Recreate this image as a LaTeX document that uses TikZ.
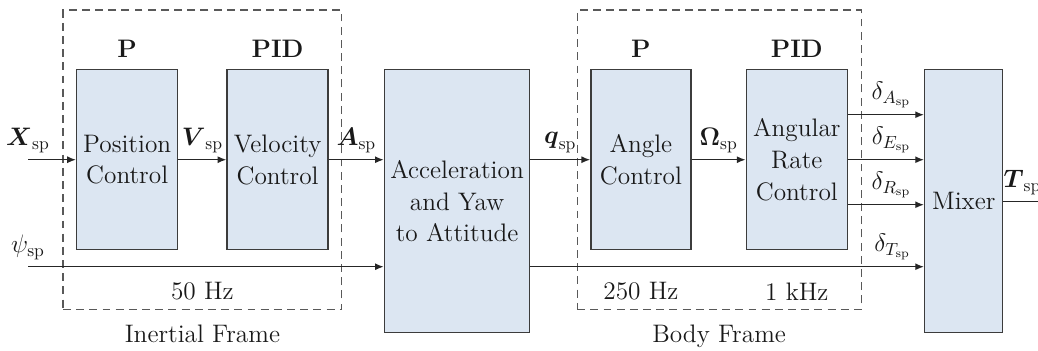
\documentclass[tikz,border=0pt]{standalone}
\usepackage{amsmath}
\usetikzlibrary{positioning,arrows.meta,fit}
\definecolor{blockfill}{RGB}{220,230,242}
\definecolor{blockline}{RGB}{60,60,60}

\begin{document}
\begin{tikzpicture}[
      node distance=1cm,
      every node/.style={font=\Large, text=black!90},
      block/.style={draw=blockline, line width=0.8pt, fill=blockfill, minimum width=2.02cm, minimum height=3.6cm, inner xsep=1pt, align=center},
      tall/.style={block, minimum height=5.26cm},
      frame/.style={draw=black!65, line width=0.6pt, dash pattern=on 4.5pt off 3pt, inner xsep=0.26cm, inner ysep=1.18cm},
      gain/.style={font=\Large\bfseries},
      arrow/.style={-{Latex[length=5pt,width=4pt]}, line width=0.8pt, draw=black!85},
    ]
    \useasboundingbox (0,0) rectangle (20.76,-7.0);

    % Inertial frame blocks
    \node[block, anchor=north west] (pos) at (1.52,-1.38) {Position\\Control};
    \node[block, right=0.96cm of pos] (vel) {Velocity\\Control};

    % Attitude generation
    \node[tall, right=1.1cm of vel.north east, anchor=north west, minimum width=2.9cm] (accel) {Acceleration\\and Yaw\\to Attitude};

    % Body frame blocks
    \node[block, right=1.2cm of accel.north east, anchor=north west, minimum width=2.0cm] (angle) {Angle\\Control};
    \node[block, right=1.08cm of angle] (rate) {Angular\\Rate\\Control};

    % Mixer
    \node[tall, right=1.52cm of rate.north east, anchor=north west, minimum width=1.56cm] (mixer) {Mixer};

    % Gain labels
    \node[gain, above=0.1cm of pos] (gpos) {P};
    \node[gain, above=0.1cm of vel] (gvel) {PID};
    \node[gain, above=0.1cm of angle] (gangle) {P};
    \node[gain, above=0.1cm of rate] (grate) {PID};

    % Frames
    \node[frame, fit=(pos)(vel)] (inertial) {};
    \node[frame, fit=(angle)(rate)] (body) {};
    \node[below=0.17cm of inertial] (linertial) {Inertial Frame};
    \node[below=0.17cm of body] (lbody) {Body Frame};

    % Loop rates
    \node[above=0.07cm of inertial.south] (f50) {50 Hz};
    \node (f250) at (angle |- f50) {250 Hz};
    \node (f1k) at (rate |- f50) {1 kHz};

    % Inputs and output
    \coordinate[left=0.96cm of pos] (xin);
    \coordinate[below=2.14cm of xin] (psiin);
    \coordinate[right=1.0cm of mixer] (tout);

    % Arrows
    \draw[arrow] (xin) -- node[at start, above] {$\boldsymbol{X}_\mathrm{sp}$} (pos.west);
    \draw[arrow] (pos.east) -- node[midway, above] {$\boldsymbol{V}_\mathrm{sp}$} (vel.west);
    \draw[arrow] (vel.east) -- node[midway, above] {$\boldsymbol{A}_\mathrm{sp}$} (vel.east -| accel.west);
    \draw[arrow] (psiin) -- node[at start, above] {$\psi_\mathrm{sp}$} (psiin -| accel.west);
    \draw[arrow] (angle.west -| accel.east) -- node[midway, above] {$\boldsymbol{q}_\mathrm{sp}$} (angle.west);
    \draw[arrow] (angle.east) -- node[midway, above] {$\boldsymbol{\Omega}_\mathrm{sp}$} (rate.west);
    \draw[arrow] ([yshift=0.9cm]rate.east) -- node[pos=0.57, above] {$\delta_{A_\mathrm{sp}}$} ([yshift=0.9cm]rate.east -| mixer.west);
    \draw[arrow] (rate.east) -- node[pos=0.57, above] {$\delta_{E_\mathrm{sp}}$} (rate.east -| mixer.west);
    \draw[arrow] ([yshift=-0.9cm]rate.east) -- node[pos=0.57, above] {$\delta_{R_\mathrm{sp}}$} ([yshift=-0.9cm]rate.east -| mixer.west);
    \draw[arrow] (accel.east |- psiin) -- node[pos=0.92, above] {$\delta_{T_\mathrm{sp}}$} (mixer.west |- psiin);
    \draw[arrow] (mixer.east) -- node[pos=0.38, above, inner xsep=0pt] {$\boldsymbol{T}_\mathrm{sp}$} (tout);
  \end{tikzpicture}
\end{document}
